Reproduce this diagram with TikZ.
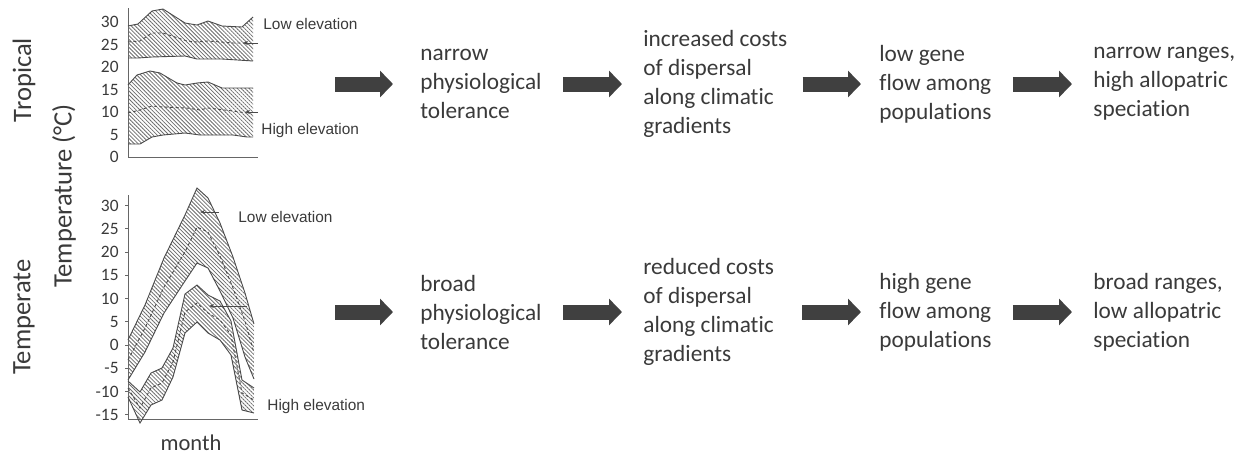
\documentclass[tikz,border=0pt]{standalone}
\usepackage{fontspec}
\setmainfont{Carlito}[Ligatures=NoCommon]
\newfontfamily\elevfont{Liberation Sans}
\usetikzlibrary{arrows.meta,patterns.meta}
\definecolor{ink}{HTML}{3A3A3A}
\definecolor{arrowgray}{HTML}{404040}
\definecolor{curve}{HTML}{4A4A4A}

\begin{document}
\begin{tikzpicture}[x=0.5pt,y=-0.5pt,
  flow/.style={anchor=west,align=left,inner sep=0pt,text=ink,font=\fontsize{11.65}{14.5}\selectfont},
  rowlabel/.style={rotate=90,inner sep=0pt,text=ink,font=\fontsize{13.3}{16}\selectfont},
  ticklabel/.style={anchor=east,inner sep=0pt,text=ink,font=\fontsize{8.7}{10}\selectfont},
  elev/.style={anchor=west,inner sep=0pt,text=ink,font=\elevfont\fontsize{7.7}{9}\selectfont},
  bigarr/.style={line width=7.5pt,draw=arrowgray,-{Triangle[length=6.5pt,width=13pt]}},
  axis/.style={draw=gray!80!black,line width=0.5pt},
  band/.style={pattern={Lines[angle=-45,distance=1.4pt,line width=0.4pt]},pattern color=gray!85!black},
  edge/.style={draw=curve,line width=0.45pt},
  mid/.style={draw=curve,line width=0.45pt,dash pattern=on 1.5pt off 1.2pt},
  ptr/.style={draw=curve,line width=0.4pt,-{Stealth[length=2.5pt,width=2pt]}}]

  \useasboundingbox (0,0) rectangle (1249,457);

  \node[rowlabel] (trop) at (24,80) {Tropical};
  \node[rowlabel] (temp) at (24,317) {Temperate};
  \node[rowlabel] (ylab) at (64,196) {Temperature (°C)};
  \node[text=ink,inner sep=0pt,font=\fontsize{11.25}{13}\selectfont] (month) at (191,443) {month};

  % tropical panel
  \draw[axis] (128,8) -- (128,157) -- (258,157);
  \foreach \t [count=\i] in {0,5,...,30}
    \node[ticklabel] (ta\i) at (119,{157-4.5*\t}) {\t};

  \fill[band] (128,26) -- (138,24) -- (152,11) -- (163,9) -- (185,23) -- (197,25) -- (208,21) -- (222,26) -- (242,27) -- (253,17)
    -- (253,61) -- (222,59) -- (197,59) -- (185,56) -- (152,57) -- (138,58) -- (128,58) -- cycle;
  \draw[edge] (128,26) -- (138,24) -- (152,11) -- (163,9) -- (185,23) -- (197,25) -- (208,21) -- (222,26) -- (242,27) -- (253,17);
  \draw[edge] (128,58) -- (138,58) -- (152,57) -- (185,56) -- (197,59) -- (222,59) -- (253,61);
  \draw[mid] (128,42) -- (140,41) -- (152,33) -- (163,33) -- (187,41) -- (197,42) -- (208,41) -- (233,43) -- (247,43);

  \fill[band] (128,85) -- (137,75) -- (150,71) -- (160,73) -- (177,83) -- (185,85) -- (197,83) -- (208,82) -- (222,88) -- (253,88)
    -- (253,137) -- (247,137) -- (233,135) -- (200,135) -- (185,133) -- (163,135) -- (152,137) -- (140,144) -- (128,144) -- cycle;
  \draw[edge] (128,85) -- (137,75) -- (150,71) -- (160,73) -- (177,83) -- (185,85) -- (197,83) -- (208,82) -- (222,88) -- (253,88);
  \draw[edge] (128,144) -- (140,144) -- (152,137) -- (163,135) -- (185,133) -- (200,135) -- (233,135) -- (247,137) -- (253,137);
  \draw[mid] (128,113) -- (140,110) -- (152,106) -- (163,107) -- (187,108) -- (200,110) -- (208,108) -- (233,111) -- (247,113);

  \node[elev] (lowel1) at (263,24) {Low elevation};
  \node[elev] (highel1) at (261,131) {High elevation};
  \coordinate (p1) at (258,43);
  \coordinate (q1) at (243,43);
  \coordinate (p2) at (258,112);
  \coordinate (q2) at (245,112);
  \draw[ptr] (p1) -- (q1);
  \draw[ptr] (p2) -- (q2);

  % temperate panel
  \draw[axis] (128,195) -- (128,419) -- (258,419);
  \foreach \t [count=\i] in {-15,-10,...,30} {
    \node[ticklabel] (tb\i) at (119,{345-4.65*\t}) {\t};
    \draw[axis] (125,{345-4.65*\t}) -- (128,{345-4.65*\t});
  }

  \fill[band] (128,340) -- (145,305) -- (164,258) -- (185,215) -- (197,188) -- (208,198) -- (220,223) -- (233,257) -- (245,293) -- (254,324)
    -- (254,379) -- (245,357) -- (233,318) -- (220,291) -- (208,268) -- (197,263) -- (183,284) -- (164,313) -- (145,352) -- (128,380) -- cycle;
  \draw[edge] (128,340) -- (145,305) -- (164,258) -- (185,215) -- (197,188) -- (208,198) -- (220,223) -- (233,257) -- (245,293) -- (254,324);
  \draw[edge] (128,380) -- (145,352) -- (164,313) -- (183,284) -- (197,263) -- (208,268) -- (220,291) -- (233,318) -- (245,357) -- (254,379);
  \draw[mid] (128,360) -- (145,328) -- (164,287) -- (185,252) -- (197,227) -- (208,232) -- (220,256) -- (233,288) -- (245,321) -- (254,353);

  \fill[band] (128,381) -- (140,392) -- (151,373) -- (162,368) -- (173,348) -- (185,294) -- (197,285) -- (208,295) -- (220,301) -- (231,321) -- (242,380) -- (254,388)
    -- (254,413) -- (242,410) -- (231,355) -- (220,340) -- (208,333) -- (197,322) -- (185,333) -- (173,377) -- (162,400) -- (151,405) -- (140,423) -- (128,397) -- cycle;
  \draw[edge] (128,381) -- (140,392) -- (151,373) -- (162,368) -- (173,348) -- (185,294) -- (197,285) -- (208,295) -- (220,301) -- (231,321) -- (242,380) -- (254,388);
  \draw[edge] (128,397) -- (140,423) -- (151,405) -- (162,400) -- (173,377) -- (185,333) -- (197,322) -- (208,333) -- (220,340) -- (231,355) -- (242,410) -- (254,413);
  \draw[mid] (128,388) -- (140,408) -- (151,388) -- (162,383) -- (173,362) -- (185,312) -- (197,303) -- (208,313) -- (220,320) -- (231,335) -- (242,393) -- (254,400);

  \node[elev] (lowel2) at (238,217) {Low elevation};
  \node[elev] (highel2) at (267,407) {High elevation};
  \coordinate (p3) at (219,212);
  \coordinate (q3) at (200,212);
  \coordinate (p4) at (247,306);
  \coordinate (q4) at (209,306);
  \draw[ptr] (p3) -- (q3);
  \draw[ptr] (p4) -- (q4);

  % flow, tropical row
  \node[flow] (tol1) at (420,84) {narrow\\physiological\\tolerance};
  \node[flow] (cost1) at (643,84) {increased costs\\of dispersal\\along climatic\\gradients};
  \node[flow] (gene1) at (879,84) {low gene\\flow among\\populations};
  \node[flow] (range1) at (1093,84) {narrow ranges,\\high allopatric\\speciation};
  \coordinate (st1) at (335,84);
  \draw[bigarr,shorten >=13.5pt] (st1) -- (tol1);
  \draw[bigarr,shorten <=10.5pt,shorten >=10.5pt] (tol1) -- (cost1);
  \draw[bigarr,shorten <=7.5pt,shorten >=9pt] (cost1) -- (gene1);
  \draw[bigarr,shorten <=10.5pt,shorten >=10.5pt] (gene1) -- (range1);

  % flow, temperate row
  \node[flow] (tol2) at (420,312) {broad\\physiological\\tolerance};
  \node[flow] (cost2) at (643,312) {reduced costs\\of dispersal\\along climatic\\gradients};
  \node[flow] (gene2) at (879,312) {high gene\\flow among\\populations};
  \node[flow] (range2) at (1093,312) {broad ranges,\\low allopatric\\speciation};
  \coordinate (st2) at (335,312);
  \draw[bigarr,shorten >=13.5pt] (st2) -- (tol2);
  \draw[bigarr,shorten <=10.5pt,shorten >=10.5pt] (tol2) -- (cost2);
  \draw[bigarr,shorten <=14pt,shorten >=9pt] (cost2) -- (gene2);
  \draw[bigarr,shorten <=10.5pt,shorten >=10.5pt] (gene2) -- (range2);
\end{tikzpicture}
\end{document}
